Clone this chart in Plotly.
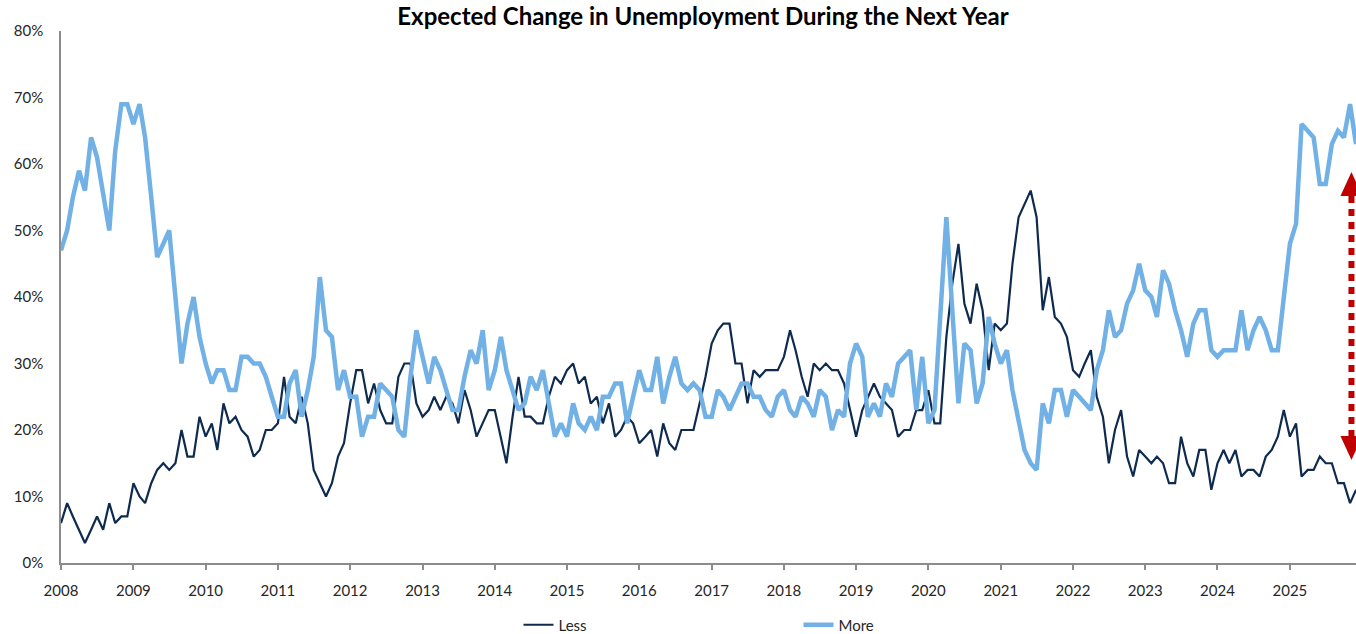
import pandas as pd
import plotly.graph_objects as go

# Share of respondents expecting unemployment to be lower / higher a year ahead (%),
# monthly, Jan 2008 - Dec 2025, one row per year
less = [
    6, 9, 7, 5, 3, 5, 7, 5, 9, 6, 7, 7,            # 2008
    12, 10, 9, 12, 14, 15, 14, 15, 20, 16, 16, 22,  # 2009
    19, 21, 17, 24, 21, 22, 20, 19, 16, 17, 20, 20, # 2010
    21, 28, 22, 21, 25, 21, 14, 12, 10, 12, 16, 18, # 2011
    24, 29, 29, 24, 27, 23, 21, 21, 28, 30, 30, 24, # 2012
    22, 23, 25, 23, 25, 24, 21, 26, 23, 19, 21, 23, # 2013
    23, 19, 15, 22, 28, 22, 22, 21, 21, 25, 28, 27, # 2014
    29, 30, 27, 28, 24, 25, 21, 24, 19, 20, 22, 21, # 2015
    18, 19, 20, 16, 21, 18, 17, 20, 20, 20, 24, 28, # 2016
    33, 35, 36, 36, 30, 30, 24, 29, 28, 29, 29, 29, # 2017
    31, 35, 32, 28, 25, 30, 29, 30, 29, 29, 27, 23, # 2018
    19, 23, 25, 27, 25, 24, 23, 19, 20, 20, 23, 23, # 2019
    26, 21, 21, 34, 42, 48, 39, 36, 42, 38, 29, 36, # 2020
    35, 36, 45, 52, 54, 56, 52, 38, 43, 37, 36, 34, # 2021
    29, 28, 30, 32, 25, 22, 15, 20, 23, 16, 13, 17, # 2022
    16, 15, 16, 15, 12, 12, 19, 15, 13, 17, 17, 11, # 2023
    15, 17, 15, 17, 13, 14, 14, 13, 16, 17, 19, 23, # 2024
    19, 21, 13, 14, 14, 16, 15, 15, 12, 12, 9, 11,  # 2025
]

more = [
    47, 50, 55, 59, 56, 64, 61, 55, 50, 62, 69, 69, # 2008
    66, 69, 64, 55, 46, 48, 50, 40, 30, 36, 40, 34, # 2009
    30, 27, 29, 29, 26, 26, 31, 31, 30, 30, 28, 25, # 2010
    22, 22, 27, 29, 22, 26, 31, 43, 35, 34, 26, 29, # 2011
    25, 25, 19, 22, 22, 27, 26, 25, 20, 19, 28, 35, # 2012
    31, 27, 31, 29, 26, 23, 23, 28, 32, 30, 35, 26, # 2013
    29, 34, 29, 26, 23, 24, 28, 26, 29, 24, 19, 21, # 2014
    19, 24, 21, 20, 22, 20, 25, 25, 27, 27, 21, 25, # 2015
    29, 26, 26, 31, 24, 28, 31, 27, 26, 27, 26, 22, # 2016
    22, 26, 25, 23, 25, 27, 27, 25, 25, 23, 22, 25, # 2017
    26, 23, 22, 25, 24, 22, 26, 25, 20, 23, 22, 30, # 2018
    33, 31, 22, 24, 22, 27, 25, 30, 31, 32, 23, 31, # 2019
    21, 23, 37, 52, 38, 24, 33, 32, 24, 27, 37, 33, # 2020
    30, 32, 26, 21, 17, 15, 14, 24, 21, 26, 26, 22, # 2021
    26, 25, 24, 23, 29, 32, 38, 34, 35, 39, 41, 45, # 2022
    41, 40, 37, 44, 42, 38, 35, 31, 36, 38, 38, 32, # 2023
    31, 32, 32, 32, 38, 32, 35, 37, 35, 32, 32, 40, # 2024
    48, 51, 66, 65, 64, 57, 57, 63, 65, 64, 69, 63, # 2025
]

months = pd.date_range("2008-01-01", periods=len(less), freq="MS")
year_ticks = pd.date_range("2008-01-01", "2025-01-01", freq="YS")
year_labels = [str(d.year) for d in year_ticks]
y_ticks = list(range(0, 81, 10))
y_labels = [f"{v}%" for v in y_ticks]

# Double-headed marker showing the spread between the two series
arrow_date = "2025-11-08"
arrow_top = 58.8
arrow_bottom = 15.5

NAVY = "#0E2B4F"
LIGHT_BLUE = "#72B1E5"
RED = "#C00000"
AXIS_GREY = "#8C8C8C"
TEXT = "#262626"
FONT = "Lato, 'Open Sans', sans-serif"

fig = go.Figure()
fig.add_trace(go.Scatter(x=months, y=less, name="Less", mode="lines",
                         line=dict(color=NAVY, width=2.2)))
fig.add_trace(go.Scatter(x=months, y=more, name="More", mode="lines",
                         line=dict(color=LIGHT_BLUE, width=4.5)))

head_h, head_w = 24, 11
fig.add_shape(type="line", xref="x", yref="y",
              x0=arrow_date, x1=arrow_date, y0=arrow_top - 3.6, y1=arrow_bottom + 3.6,
              line=dict(color=RED, width=6, dash="7px,6px"))
fig.add_shape(type="path", xref="x", yref="y", xsizemode="pixel", ysizemode="pixel",
              xanchor=arrow_date, yanchor=arrow_top,
              path=f"M0,0 L{-head_w},{-head_h} L{head_w},{-head_h} Z",
              fillcolor=RED, line=dict(width=0))
fig.add_shape(type="path", xref="x", yref="y", xsizemode="pixel", ysizemode="pixel",
              xanchor=arrow_date, yanchor=arrow_bottom,
              path=f"M0,0 L{-head_w},{head_h} L{head_w},{head_h} Z",
              fillcolor=RED, line=dict(width=0))

fig.update_layout(
    width=1356, height=634,
    margin=dict(l=61, r=0, t=31, b=71, autoexpand=False),
    paper_bgcolor="white", plot_bgcolor="white",
    font=dict(family=FONT, size=15, color=TEXT),
    title=dict(text="<b>Expected Change in Unemployment During the Next Year</b>",
               x=703 / 1356, xanchor="center", xref="container",
               y=1 - 17 / 634, yanchor="middle", yref="container",
               font=dict(family=FONT, size=24, color="#000000")),
    showlegend=True,
    legend=dict(orientation="h", x=0.5695, xanchor="center", xref="paper",
                y=1 - 625 / 634, yanchor="middle", yref="container",
                font=dict(size=15, color=TEXT),
                entrywidth=235, entrywidthmode="pixels", bgcolor="rgba(0,0,0,0)"),
    xaxis=dict(type="date", range=[months[0], months[-1]],
               tickvals=year_ticks, ticktext=year_labels, automargin=False,
               showgrid=False, zeroline=False,
               showline=True, linecolor=AXIS_GREY, linewidth=1.5,
               ticks="outside", ticklen=5, tickwidth=1.5, tickcolor=AXIS_GREY,
               tickfont=dict(size=15, color=TEXT), ticklabelstandoff=8),
    yaxis=dict(range=[0, 80], tickvals=y_ticks, ticktext=y_labels, automargin=False,
               showgrid=False, zeroline=False,
               showline=True, linecolor=AXIS_GREY, linewidth=1.5,
               ticks="", tickfont=dict(size=15, color=TEXT), ticklabelstandoff=13),
)

fig.write_html("out.html")
